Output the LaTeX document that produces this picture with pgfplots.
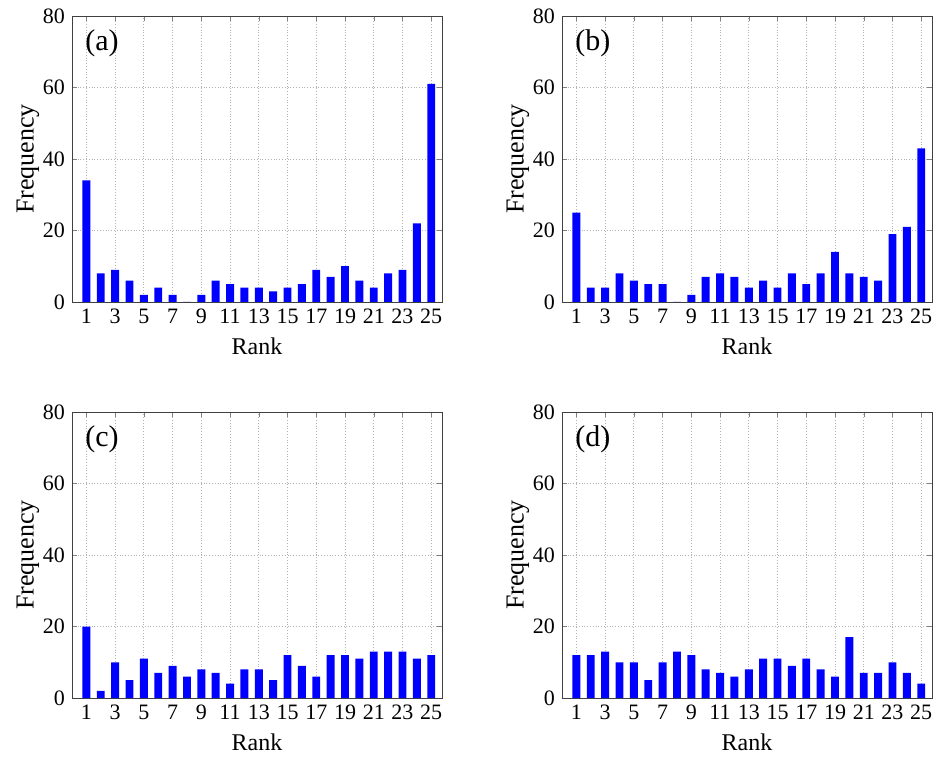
\documentclass[border=0pt]{standalone}
\usepackage{fontspec}
\setmainfont{Liberation Serif}
\usepackage{pgfplots}
\pgfplotsset{compat=1.18}
\tikzset{lab/.style={anchor=north west, inner sep=0pt, font=\fontsize{15}{16}\selectfont}}
\pgfplotsset{
 panel/.style={
  width=185pt, height=143pt, scale only axis,
  ybar, bar width=0.55, bar shift=0pt,
  xmin=0, xmax=25.75, ymin=0, ymax=80,
  xtick={1,3,...,25}, ytick={0,20,...,80},
  tick align=inside, major tick length=2.5pt,
  xmajorgrids, ymajorgrids, grid style={densely dotted, gray!60},
  tick label style={font=\fontsize{11}{12}\selectfont},
  xlabel style={font=\fontsize{12}{13}\selectfont},
  ylabel style={font=\fontsize{13}{14}\selectfont},
  ylabel shift=-5pt,
  xlabel={Rank}, ylabel={Frequency},
  /pgf/number format/assume math mode=true,
  axis line style={gray!50!black},
  anchor=south west,
 },
}
\begin{document}
\begin{tikzpicture}
\useasboundingbox (0,0) rectangle (468.5pt,380.5pt);
\begin{axis}[panel, at={(36pt,229.5pt)}]
\addplot[fill=blue, draw=none] coordinates {(1,34) (2,8) (3,9) (4,6) (5,2) (6,4) (7,2) (8,0) (9,2) (10,6) (11,5) (12,4) (13,4) (14,3) (15,4) (16,5) (17,9) (18,7) (19,10) (20,6) (21,4) (22,8) (23,9) (24,22) (25,61)};
\node[lab] at (rel axis cs:0.035,0.955) {(a)};
\end{axis}
\begin{axis}[panel, at={(281pt,229.5pt)}]
\addplot[fill=blue, draw=none] coordinates {(1,25) (2,4) (3,4) (4,8) (5,6) (6,5) (7,5) (8,0) (9,2) (10,7) (11,8) (12,7) (13,4) (14,6) (15,4) (16,8) (17,5) (18,8) (19,14) (20,8) (21,7) (22,6) (23,19) (24,21) (25,43)};
\node[lab] at (rel axis cs:0.035,0.955) {(b)};
\end{axis}
\begin{axis}[panel, at={(36pt,31.5pt)}]
\addplot[fill=blue, draw=none] coordinates {(1,20) (2,2) (3,10) (4,5) (5,11) (6,7) (7,9) (8,6) (9,8) (10,7) (11,4) (12,8) (13,8) (14,5) (15,12) (16,9) (17,6) (18,12) (19,12) (20,11) (21,13) (22,13) (23,13) (24,11) (25,12)};
\node[lab] at (rel axis cs:0.035,0.955) {(c)};
\end{axis}
\begin{axis}[panel, at={(281pt,31.5pt)}]
\addplot[fill=blue, draw=none] coordinates {(1,12) (2,12) (3,13) (4,10) (5,10) (6,5) (7,10) (8,13) (9,12) (10,8) (11,7) (12,6) (13,8) (14,11) (15,11) (16,9) (17,11) (18,8) (19,6) (20,17) (21,7) (22,7) (23,10) (24,7) (25,4)};
\node[lab] at (rel axis cs:0.035,0.955) {(d)};
\end{axis}
\end{tikzpicture}
\end{document}
